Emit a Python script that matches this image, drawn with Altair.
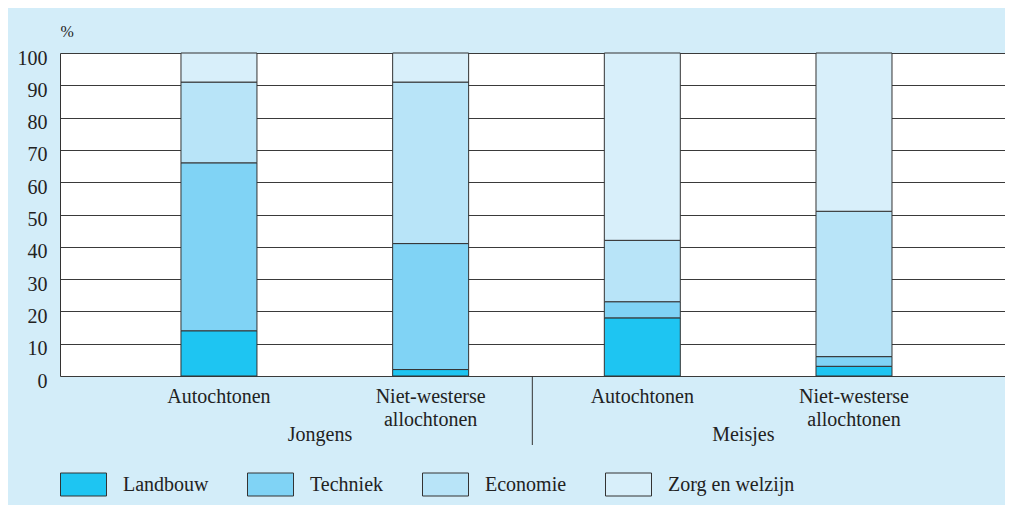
import altair as alt
import pandas as pd

# ---- data ----
groups = ["Jongens", "Jongens", "Meisjes", "Meisjes"]
subgroups = ["Autochtonen", "Niet-westerse|allochtonen", "Autochtonen", "Niet-westerse|allochtonen"]
sectors = ["Landbouw", "Techniek", "Economie", "Zorg en welzijn"]
landbouw = [14, 2, 18, 3]
techniek = [52, 39, 5, 3]
economie = [25, 50, 19, 45]
zorg = [9, 9, 58, 49]
colors = ["#1EC5F2", "#80D3F5", "#B8E4F8", "#D8EFFA"]
y_ticks = list(range(0, 101, 10))

keys = [f"{g}#{i}" for i, g in enumerate(groups)]
series = [landbouw, techniek, economie, zorg]

rows = []
for i, key in enumerate(keys):
    for j, sec in enumerate(sectors):
        rows.append({"key": key, "sector": sec, "value": series[j][i], "order": j})
df = pd.DataFrame(rows)

ldf = pd.DataFrame({"key": keys, "sub": subgroups})

group_names = list(dict.fromkeys(groups))
group_first = [keys[groups.index(g)] for g in group_names]
gdf = pd.DataFrame({"key": group_first, "label": group_names})
sdf = pd.DataFrame({"key": [group_first[1]]})

FONT = "Liberation Serif"
FS = 20
TXT = "#222222"

xscale = alt.Scale(domain=keys, paddingInner=0.641, paddingOuter=0.5527, align=0.517)


def xenc():
    return alt.X("key:N", scale=xscale, sort=keys, axis=None)


bars = alt.Chart(df).mark_bar(stroke="#333333", strokeWidth=1).encode(
    x=xenc(),
    y=alt.Y("value:Q", stack="zero",
            scale=alt.Scale(domain=[0, 100], nice=False),
            axis=alt.Axis(title="%", values=y_ticks, grid=True, gridColor="#3a3a3a",
                          gridWidth=1, gridOpacity=1, ticks=False, domain=True,
                          domainColor="#333333", domainWidth=1,
                          labelFont=FONT, labelFontSize=FS, labelColor=TXT,
                          labelPadding=13, labelOffset=5, labelBaseline="middle",
                          titleAngle=0, titleX=0, titleY=-22, titleAlign="left",
                          titleBaseline="middle", titleFont=FONT, titleFontSize=16,
                          titleFontWeight="normal", titleColor=TXT)),
    color=alt.Color("sector:N", scale=alt.Scale(domain=sectors, range=colors),
                    legend=alt.Legend(title=None, orient="none", legendX=0, legendY=408,
                                      direction="horizontal", columns=4,
                                      symbolType="M-1,-0.5H1V0.5H-1Z", symbolSize=2116,
                                      symbolStrokeColor="#333333", symbolStrokeWidth=1,
                                      symbolOpacity=1, labelOffset=16, columnPadding=36,
                                      labelFont=FONT, labelFontSize=FS, labelColor=TXT,
                                      padding=0)),
    order=alt.Order("order:Q"),
)

cat_labels = alt.Chart(ldf).mark_text(baseline="top", align="center", lineBreak="|",
                                      lineHeight=23, font=FONT, fontSize=FS,
                                      color=TXT).encode(
    x=xenc(),
    y=alt.value(334),
    text="sub:N",
)

group_text = alt.Chart(gdf).mark_text(dx=101, baseline="alphabetic", align="center",
                                      font=FONT, fontSize=FS, color=TXT).encode(
    x=xenc(),
    y=alt.value(388),
    text="label:N",
)

separator = alt.Chart(sdf).mark_rule(color="#333333", strokeWidth=1, xOffset=-110).encode(
    x=xenc(),
    y=alt.value(323),
    y2=alt.value(392),
)

chart = alt.layer(bars, separator, cat_labels, group_text).properties(
    width=945, height=323,
    autosize=alt.AutoSizeParams(type="none"),
    padding={"left": 52, "top": 45, "right": 0, "bottom": 129},
    background="#D3EDF9",
).configure_view(fill="white", stroke="transparent")

chart.save("out.html", embed_options={"renderer": "svg", "actions": False})
